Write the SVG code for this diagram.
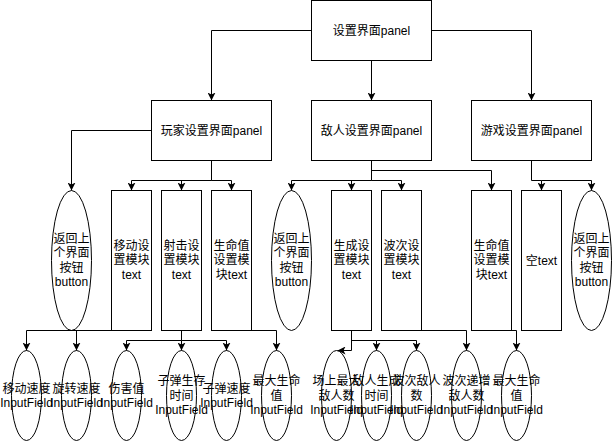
<svg xmlns="http://www.w3.org/2000/svg" width="612" height="441" viewBox="0 0 612 441">
<style>
.n{fill:#fff;stroke:#000;stroke-width:1}
.t{font-family:"Liberation Sans","Noto Sans CJK SC",sans-serif;font-size:12px;fill:#000;text-anchor:middle}
.c{fill:none;stroke:#000;stroke-width:1}
</style>
<defs>
<marker id="a" markerUnits="userSpaceOnUse" viewBox="0 0 8 8" markerWidth="8" markerHeight="8" refX="8" refY="4" orient="auto">
<path d="M0,0 L8,4 L0,8 L2,4 Z" fill="#000"/>
</marker>
</defs>
<rect width="612" height="441" fill="#fff"/>
<g id="root"><rect class="n" x="311.5" y="0.5" width="120" height="60"/><text class="t" x="371.5" y="35">设置界面panel</text></g>
<g id="player"><rect class="n" x="151.5" y="100.5" width="120" height="60"/><text class="t" x="211.5" y="135">玩家设置界面panel</text></g>
<g id="enemy"><rect class="n" x="311.5" y="100.5" width="120" height="60"/><text class="t" x="371.5" y="135">敌人设置界面panel</text></g>
<g id="game"><rect class="n" x="471.5" y="100.5" width="120" height="60"/><text class="t" x="531.5" y="135">游戏设置界面panel</text></g>

<g id="pBack"><ellipse class="n" cx="71.5" cy="260.5" rx="20" ry="70"/><text class="t" x="71.5" y="243">返回上<tspan x="71.5" y="257.4">个界面</tspan><tspan x="71.5" y="271.8">按钮</tspan><tspan x="71.5" y="286.2">button</tspan></text></g>
<g id="pMove"><rect class="n" x="111.5" y="190.5" width="40" height="140"/><text class="t" x="131.5" y="250">移动设<tspan x="131.5" y="264.4">置模块</tspan><tspan x="131.5" y="278.8">text</tspan></text></g>
<g id="pShoot"><rect class="n" x="161.5" y="190.5" width="40" height="140"/><text class="t" x="181.5" y="250">射击设<tspan x="181.5" y="264.4">置模块</tspan><tspan x="181.5" y="278.8">text</tspan></text></g>
<g id="pLife"><rect class="n" x="211.5" y="190.5" width="40" height="140"/><text class="t" x="231.5" y="250">生命值<tspan x="231.5" y="264.4">设置模</tspan><tspan x="231.5" y="278.8">块text</tspan></text></g>
<g id="eBack"><ellipse class="n" cx="291.5" cy="260.5" rx="20" ry="70"/><text class="t" x="291.5" y="243">返回上<tspan x="291.5" y="257.4">个界面</tspan><tspan x="291.5" y="271.8">按钮</tspan><tspan x="291.5" y="286.2">button</tspan></text></g>
<g id="eSpawn"><rect class="n" x="331.5" y="190.5" width="40" height="140"/><text class="t" x="351.5" y="250">生成设<tspan x="351.5" y="264.4">置模块</tspan><tspan x="351.5" y="278.8">text</tspan></text></g>
<g id="eWave"><rect class="n" x="381.5" y="190.5" width="40" height="140"/><text class="t" x="401.5" y="250">波次设<tspan x="401.5" y="264.4">置模块</tspan><tspan x="401.5" y="278.8">text</tspan></text></g>
<g id="gLife"><rect class="n" x="471.5" y="190.5" width="40" height="140"/><text class="t" x="491.5" y="250">生命值<tspan x="491.5" y="264.4">设置模</tspan><tspan x="491.5" y="278.8">块text</tspan></text></g>
<g id="gEmpty"><rect class="n" x="521.5" y="190.5" width="40" height="140"/><text class="t" x="541.5" y="264.5">空text</text></g>
<g id="gBack"><ellipse class="n" cx="591.5" cy="260.5" rx="20" ry="70"/><text class="t" x="591.5" y="243">返回上<tspan x="591.5" y="257.4">个界面</tspan><tspan x="591.5" y="271.8">按钮</tspan><tspan x="591.5" y="286.2">button</tspan></text></g>

<g id="f1"><ellipse class="n" cx="26.5" cy="395.5" rx="15" ry="45"/><text class="t" x="26.5" y="392.5">移动速度<tspan x="26.5" y="406.9">InputField</tspan></text></g>
<g id="f2"><ellipse class="n" cx="76.5" cy="395.5" rx="15" ry="45"/><text class="t" x="76.5" y="392.5">旋转速度<tspan x="76.5" y="406.9">InputField</tspan></text></g>
<g id="f3"><ellipse class="n" cx="126.5" cy="395.5" rx="15" ry="45"/><text class="t" x="126.5" y="392.5">伤害值<tspan x="126.5" y="406.9">InputField</tspan></text></g>
<g id="f4"><ellipse class="n" cx="181.5" cy="395.5" rx="15" ry="45"/><text class="t" x="181.5" y="385.3">子弹生存<tspan x="181.5" y="399.7">时间</tspan><tspan x="181.5" y="414.1">InputField</tspan></text></g>
<g id="f5"><ellipse class="n" cx="226.5" cy="395.5" rx="15" ry="45"/><text class="t" x="226.5" y="392.5">子弹速度<tspan x="226.5" y="406.9">InputField</tspan></text></g>
<g id="f6"><ellipse class="n" cx="276.5" cy="395.5" rx="15" ry="45"/><text class="t" x="276.5" y="385.3">最大生命<tspan x="276.5" y="399.7">值</tspan><tspan x="276.5" y="414.1">InputField</tspan></text></g>
<g id="f7"><ellipse class="n" cx="336.5" cy="395.5" rx="15" ry="45"/><text class="t" x="336.5" y="385.3">场上最大<tspan x="336.5" y="399.7">敌人数</tspan><tspan x="336.5" y="414.1">InputField</tspan></text></g>
<g id="f8"><ellipse class="n" cx="376.5" cy="395.5" rx="15" ry="45"/><text class="t" x="376.5" y="385.3">敌人生成<tspan x="376.5" y="399.7">时间</tspan><tspan x="376.5" y="414.1">InputField</tspan></text></g>
<g id="f9"><ellipse class="n" cx="416.5" cy="395.5" rx="15" ry="45"/><text class="t" x="416.5" y="385.3">波次敌人<tspan x="416.5" y="399.7">数</tspan><tspan x="416.5" y="414.1">InputField</tspan></text></g>
<g id="f10"><ellipse class="n" cx="466.5" cy="395.5" rx="15" ry="45"/><text class="t" x="466.5" y="385.3">波次递增<tspan x="466.5" y="399.7">敌人数</tspan><tspan x="466.5" y="414.1">InputField</tspan></text></g>
<g id="f11"><ellipse class="n" cx="516.5" cy="395.5" rx="15" ry="45"/><text class="t" x="516.5" y="385.3">最大生命<tspan x="516.5" y="399.7">值</tspan><tspan x="516.5" y="414.1">InputField</tspan></text></g>

<g id="connectors" class="c" marker-end="url(#a)">
<polyline class="c" marker-end="url(#a)" points="311.5,30.5 211.5,30.5 211.5,100.5"/>
<polyline class="c" marker-end="url(#a)" points="371.5,60.5 371.5,100.5"/>
<polyline class="c" marker-end="url(#a)" points="431.5,30.5 531.5,30.5 531.5,100.5"/>
<polyline class="c" marker-end="url(#a)" points="151.5,130.5 71.5,130.5 71.5,190.5"/>
<polyline class="c" marker-end="url(#a)" points="211.5,160.5 211.5,180.5 131.5,180.5 131.5,190.5"/>
<polyline class="c" marker-end="url(#a)" points="211.5,180.5 181.5,180.5 181.5,190.5"/>
<polyline class="c" marker-end="url(#a)" points="211.5,180.5 231.5,180.5 231.5,190.5"/>
<polyline class="c" marker-end="url(#a)" points="371.5,160.5 371.5,180.5 291.5,180.5 291.5,190.5"/>
<polyline class="c" marker-end="url(#a)" points="371.5,180.5 351.5,180.5 351.5,190.5"/>
<polyline class="c" marker-end="url(#a)" points="371.5,180.5 401.5,180.5 401.5,190.5"/>
<polyline class="c" marker-end="url(#a)" points="371.5,170.5 491.5,170.5 491.5,190.5"/>
<polyline class="c" marker-end="url(#a)" points="531.5,160.5 531.5,180.5 541.5,180.5 541.5,190.5"/>
<polyline class="c" marker-end="url(#a)" points="541.5,180.5 591.5,180.5 591.5,190.5"/>
<polyline class="c" marker-end="url(#a)" points="131.5,330.5 26.5,330.5 26.5,350.5"/>
<polyline class="c" marker-end="url(#a)" points="76.5,330.5 76.5,350.5"/>
<polyline class="c" marker-end="url(#a)" points="181.5,330.5 181.5,340.5 126.5,340.5 126.5,350.5"/>
<polyline class="c" marker-end="url(#a)" points="181.5,340.5 181.5,350.5"/>
<polyline class="c" marker-end="url(#a)" points="181.5,340.5 226.5,340.5 226.5,350.5"/>
<polyline class="c" marker-end="url(#a)" points="231.5,330.5 276.5,330.5 276.5,350.5"/>
<polyline class="c" marker-end="url(#a)" points="351.5,330.5 351.5,350.5 337.5,350.5"/>
<polyline class="c" marker-end="url(#a)" points="351.5,340.5 376.5,340.5 376.5,350.5"/>
<polyline class="c" marker-end="url(#a)" points="376.5,340.5 416.5,340.5 416.5,350.5"/>
<polyline class="c" marker-end="url(#a)" points="401.5,330.5 466.5,330.5 466.5,350.5"/>
<polyline class="c" marker-end="url(#a)" points="491.5,330.5 516.5,330.5 516.5,350.5"/>
</g>
</svg>
